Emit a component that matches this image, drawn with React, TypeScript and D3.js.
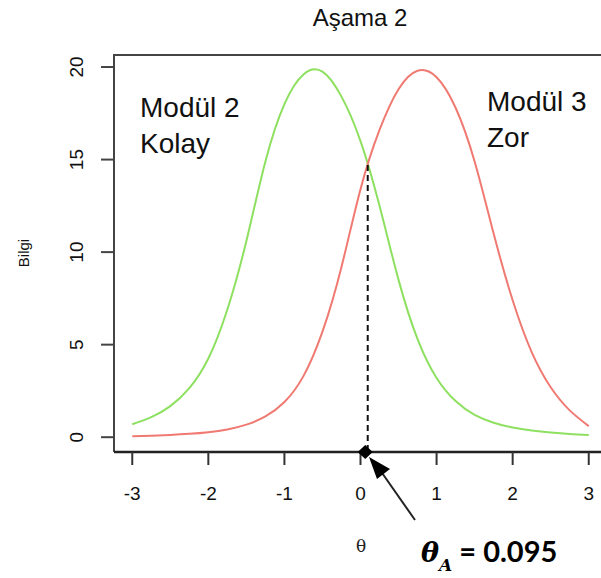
import React from "react";
import * as d3 from "d3";

const thetaGrid = [-3, -2.75, -2.5, -2.25, -2, -1.75, -1.5, -1.25, -1, -0.75, -0.5, -0.25, 0, 0.25, 0.5, 0.75, 1, 1.25, 1.5, 1.75, 2, 2.25, 2.5, 2.75, 3];
const modul2Kolay = [0.7, 1.08, 1.68, 2.65, 4.25, 6.9, 10.6, 14.9, 18.0, 19.6, 19.75, 18.4, 16.0, 12.5, 8.5, 5.3, 3.2, 1.95, 1.2, 0.78, 0.52, 0.36, 0.25, 0.17, 0.12];
const modul3Zor = [0.05, 0.08, 0.12, 0.18, 0.27, 0.42, 0.68, 1.12, 1.9, 3.3, 5.7, 9.2, 13.4, 16.6, 18.8, 19.8, 19.45, 17.8, 14.9, 11.0, 7.4, 4.6, 2.7, 1.45, 0.6];
const xTicks = [-3, -2, -1, 0, 1, 2, 3];
const yTicks = [0, 5, 10, 15, 20];
const thetaA = 0.095;
const thetaAInfo = 14.7;

export default function App() {
  const W = 601, H = 578;
  const left = 114, top = 55, bottom = 452;
  const x = d3.scaleLinear().domain([-3.24, 3.24]).range([left, 607]);
  const y = d3.scaleLinear().domain([-0.8, 20.65]).range([bottom, top]);
  const line = d3.line<number>().x((_, i) => x(thetaGrid[i])).y((d) => y(d)).curve(d3.curveNatural);
  const sans = "'Liberation Sans', Arial, Helvetica, sans-serif";
  const ax = x(thetaA);
  return (
    <svg width={W} height={H} style={{ position: "absolute", left: 0, top: 0, background: "#fff" }}>
      <text x={360} y={26} textAnchor="middle" fontFamily={sans} fontSize={24} fill="#111">Aşama 2</text>
      {/* box */}
      <path d={`M${left},${bottom} L${left},${top} L${W + 5},${top}`} fill="none" stroke="#444" strokeWidth={2} />
      <line x1={left} x2={W + 5} y1={bottom} y2={bottom} stroke="#222" strokeWidth={2.5} />
      {/* y axis */}
      {yTicks.map((t) => (
        <g key={"y" + t}>
          <line x1={101} x2={left} y1={y(t)} y2={y(t)} stroke="#444" strokeWidth={2} />
          <text transform={`translate(${83},${y(t)}) rotate(-90)`} textAnchor="middle" fontFamily={sans} fontSize={19} fill="#111">{t}</text>
        </g>
      ))}
      {/* x axis */}
      {xTicks.map((t) => (
        <g key={"x" + t}>
          <line x1={x(t)} x2={x(t)} y1={bottom} y2={465} stroke="#333" strokeWidth={2} />
          <text x={x(t)} y={500} textAnchor="middle" fontFamily={sans} fontSize={19} fill="#111">{t}</text>
        </g>
      ))}
      <text transform={`translate(${29},${253}) rotate(-90)`} textAnchor="middle" fontFamily={sans} fontSize={15} fill="#111">Bilgi</text>
      <text x={361} y={552} textAnchor="middle" fontFamily="'DejaVu Serif', serif" fontSize={17} fill="#222">θ</text>
      {/* curves */}
      <path d={line(modul2Kolay) || ""} fill="none" stroke="#8ee060" strokeWidth={2} />
      <path d={line(modul3Zor) || ""} fill="none" stroke="#f07a72" strokeWidth={2} />
      {/* dashed */}
      <line x1={ax} x2={ax} y1={y(thetaAInfo)} y2={bottom} stroke="#111" strokeWidth={2} strokeDasharray="6,4" />
      <path d={`M${ax - 10},${bottom} L${ax - 2.5},${bottom - 7} L${ax + 5},${bottom} L${ax - 2.5},${bottom + 7} Z`} fill="#000" />
      {/* labels */}
      <text fontFamily={sans} fontSize={28} fill="#111">
        <tspan x={140} y={117}>Modül 2</tspan>
        <tspan x={140} y={153}>Kolay</tspan>
      </text>
      <text fontFamily={sans} fontSize={28} fill="#111">
        <tspan x={487} y={111}>Modül 3</tspan>
        <tspan x={487} y={147}>Zor</tspan>
      </text>
      {/* arrow */}
      <line x1={415} y1={520} x2={380} y2={470} stroke="#222" strokeWidth={2} />
      <path d="M369,457 L390,469 L377,479 Z" fill="#000" />
      <text y={562} fontFamily="Lato, 'Open Sans', sans-serif" fontWeight="bold" fontSize={29} fill="#000">
        <tspan x={421} fontFamily="'DejaVu Serif', serif" fontStyle="italic" fontSize={27}>θ</tspan>
        <tspan dy={9} fontFamily="'DejaVu Serif', serif" fontStyle="italic" fontSize={17}>A</tspan>
        <tspan dy={-9}> = 0.095</tspan>
      </text>
    </svg>
  );
}
